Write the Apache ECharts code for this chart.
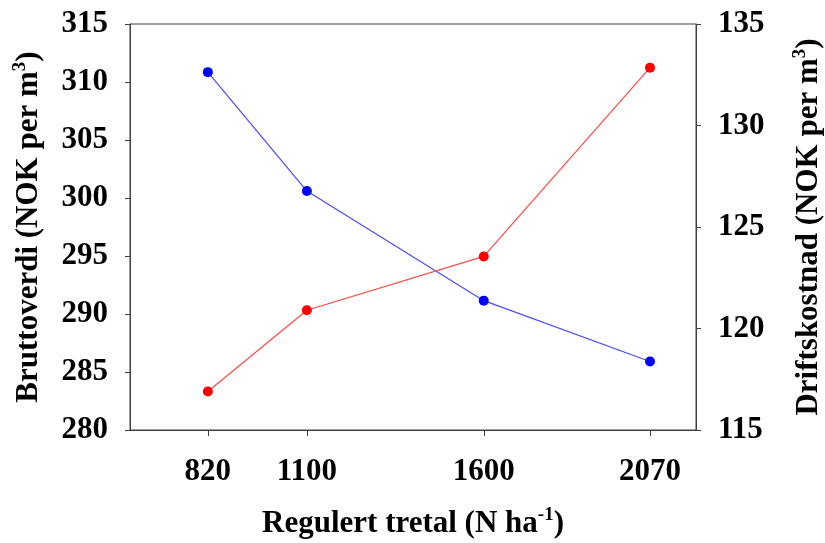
<!DOCTYPE html>
<html>
<head>
<meta charset="utf-8">
<script src="https://cdn.jsdelivr.net/npm/echarts@6/dist/echarts.min.js"></script>
<style>html,body{margin:0;padding:0;background:#fff}#c{width:825px;height:543px}</style>
</head>
<body>
<div id="c"></div>
<script>
const xTicks = [820, 1100, 1600, 2070];
const bruttoverdi = [310.85, 300.6, 291.15, 285.9];
const driftskostnad = [116.9, 120.9, 123.55, 132.85];
const leftTicks = [280, 285, 290, 295, 300, 305, 310, 315];
const rightTicks = [115, 120, 125, 130, 135];

const FONT = '"Liberation Serif", "Times New Roman", serif';
const AX = '#404040';
const lbl = {fontFamily: FONT, fontWeight: 'bold', fontSize: 31, color: '#000'};
const nameRich = {
  n: {fontFamily: FONT, fontWeight: 'bold', fontSize: 31, color: '#000'},
  s: {fontFamily: FONT, fontWeight: 'bold', fontSize: 19, color: '#000', verticalAlign: 'top', padding: [0, 0, 16, 0]}
};

const chart = echarts.init(document.getElementById('c'));
chart.setOption({
  animation: false,
  backgroundColor: '#fff',
  grid: {left: 130, right: 129, top: 24, bottom: 113, show: true, borderColor: AX, borderWidth: 1,
         containLabel: false, outerBoundsMode: 'none'},
  xAxis: {
    type: 'value', min: 600, max: 2200,
    name: '{n|Regulert tretal (N ha}{s|-1}{n|)}',
    nameLocation: 'middle', nameGap: 76,
    nameTextStyle: {rich: nameRich},
    axisLine: {show: true, lineStyle: {color: AX}},
    axisTick: {show: true, customValues: xTicks, length: 6, lineStyle: {color: AX}},
    axisLabel: Object.assign({customValues: xTicks, margin: 26, formatter: v => String(v)}, lbl),
    splitLine: {show: false}
  },
  yAxis: [
    {
      type: 'value', min: leftTicks[0], max: leftTicks[leftTicks.length-1], interval: 5,
      name: '{n|Bruttoverdi (NOK per m}{s|3}{n|)}',
      nameLocation: 'middle', nameGap: 84, nameRotate: 90,
      nameTextStyle: {rich: nameRich},
      axisLine: {show: true, lineStyle: {color: AX}},
      axisTick: {show: true, length: 5, lineStyle: {color: AX}},
      axisLabel: Object.assign({margin: 22}, lbl),
      splitLine: {show: false}
    },
    {
      type: 'value', min: rightTicks[0], max: rightTicks[rightTicks.length-1], interval: 5,
      position: 'right',
      name: '{n|Driftskostnad (NOK per m}{s|3}{n|)}',
      nameLocation: 'middle', nameGap: 95, nameRotate: 90,
      nameTextStyle: {rich: nameRich},
      axisLine: {show: true, lineStyle: {color: AX}},
      axisTick: {show: true, length: 5, lineStyle: {color: AX}},
      axisLabel: Object.assign({margin: 22}, lbl),
      splitLine: {show: false}
    }
  ],
  series: [
    {
      type: 'line', yAxisIndex: 0,
      data: xTicks.map((x, i) => [x, bruttoverdi[i]]),
      symbol: 'circle', symbolSize: 10,
      itemStyle: {color: '#0000ff'},
      lineStyle: {color: '#4a4aff', width: 1.2}
    },
    {
      type: 'line', yAxisIndex: 1,
      data: xTicks.map((x, i) => [x, driftskostnad[i]]),
      symbol: 'circle', symbolSize: 10,
      itemStyle: {color: '#ff0000'},
      lineStyle: {color: '#ff4a4a', width: 1.2}
    }
  ]
});
</script>
</body>
</html>
